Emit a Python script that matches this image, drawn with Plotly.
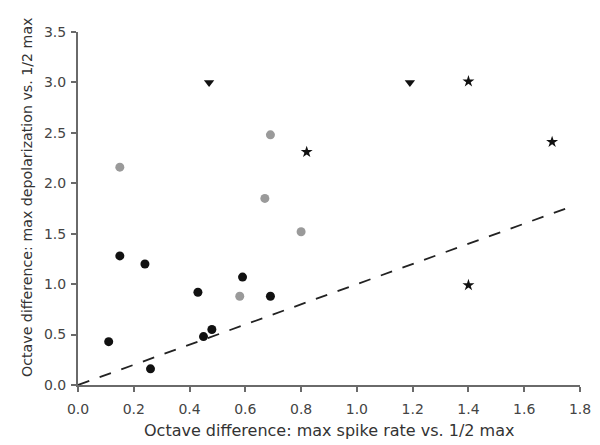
import plotly.graph_objects as go

# Black circles
black_x = [0.11, 0.15, 0.24, 0.26, 0.43, 0.45, 0.48, 0.59, 0.69]
black_y = [0.43, 1.28, 1.20, 0.16, 0.92, 0.48, 0.55, 1.07, 0.88]
# Gray circles
gray_x = [0.15, 0.58, 0.67, 0.69, 0.80]
gray_y = [2.16, 0.88, 1.85, 2.48, 1.52]
# Down triangles
tri_x = [0.47, 1.19]
tri_y = [3.0, 3.0]
# Stars
star_x = [0.82, 1.40, 1.70, 1.40]
star_y = [2.31, 3.01, 2.41, 0.99]
# Unity line
line_x = [0.0, 1.78]
line_y = [0.0, 1.78]

x_ticks = [0.0, 0.2, 0.4, 0.6, 0.8, 1.0, 1.2, 1.4, 1.6, 1.8]
y_ticks = [0.0, 0.5, 1.0, 1.5, 2.0, 2.5, 3.0, 3.5]

x_title = "Octave difference: max spike rate vs. 1/2 max"
y_title = "Octave difference: max depolarization vs. 1/2 max"

FONT = "DejaVu Sans, Arial, sans-serif"

fig = go.Figure()
fig.add_trace(go.Scatter(x=line_x, y=line_y, mode="lines",
                         line=dict(color="#222222", width=1.8, dash="12px,11px")))
fig.add_trace(go.Scatter(x=gray_x, y=gray_y, mode="markers",
                         marker=dict(symbol="circle", size=9, color="#9a9a9a")))
fig.add_trace(go.Scatter(x=black_x, y=black_y, mode="markers",
                         marker=dict(symbol="circle", size=9, color="#111111")))
fig.add_trace(go.Scatter(x=tri_x, y=tri_y, mode="markers",
                         marker=dict(symbol="triangle-down", size=9, color="#111111")))
fig.add_trace(go.Scatter(x=star_x, y=star_y, mode="markers",
                         marker=dict(symbol="star", size=9, color="#111111")))

axis_common = dict(
    showgrid=False, zeroline=False, showline=True, linecolor="#6a6a6a", linewidth=2,
    ticks="outside", ticklen=5, tickwidth=1.5, tickcolor="#6a6a6a",
    tickfont=dict(family=FONT, size=14, color="#444444"),
    tickformat=".1f", automargin=False,
)
fig.update_layout(
    width=592, height=437,
    margin=dict(l=70, r=20, t=24, b=60),
    paper_bgcolor="white", plot_bgcolor="white",
    showlegend=False,
    font=dict(family=FONT, color="#333333"),
    xaxis=dict(range=[0, 1.8], tickvals=x_ticks, ticklabelstandoff=5, **axis_common),
    yaxis=dict(range=[0, 3.5], tickvals=y_ticks, ticklabelstandoff=2, **axis_common),
    annotations=[
        dict(text=x_title, xref="paper", yref="paper", x=0.5, y=-0.130,
             xanchor="center", yanchor="middle", showarrow=False,
             font=dict(family=FONT, size=16, color="#333333")),
        dict(text=y_title, xref="paper", yref="paper", x=-0.1016, y=0.5326,
             xanchor="center", yanchor="middle", showarrow=False, textangle=-90,
             font=dict(family=FONT, size=14.2, color="#333333")),
    ],
)
fig.write_html("out.html")
